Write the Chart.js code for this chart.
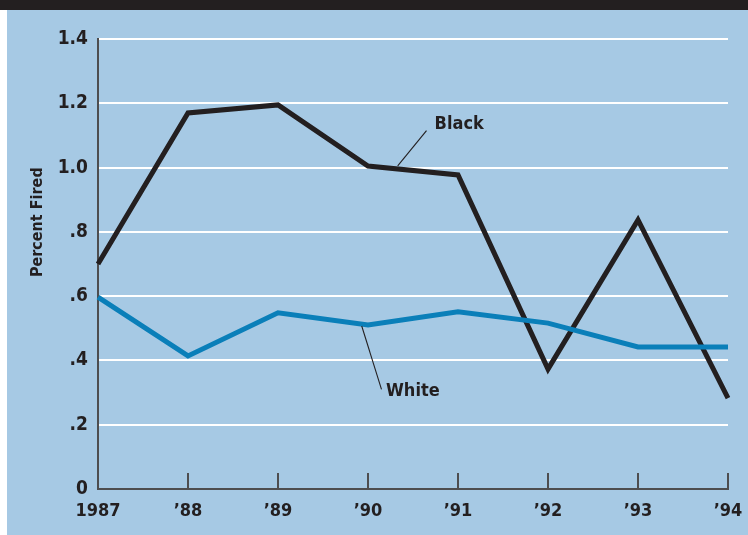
<!DOCTYPE html>
<html>
<head>
<meta charset="utf-8">
<script src="https://cdn.jsdelivr.net/npm/chart.js@4/dist/chart.umd.min.js"></script>
<style>
  html, body { margin: 0; padding: 0; background: #ffffff; }
  #wrap { position: relative; width: 748px; height: 535px; }
  canvas { display: block; }
</style>
</head>
<body>
<div id="wrap"><canvas id="c" width="748" height="535"></canvas></div>
<script>
// ---- data ----
const categories = ['1987', '\u201988', '\u201989', '\u201990', '\u201991', '\u201992', '\u201993', '\u201994'];
const blackValues = [0.70, 1.17, 1.195, 1.005, 0.977, 0.373, 0.837, 0.283];
const whiteValues = [0.597, 0.414, 0.548, 0.51, 0.551, 0.516, 0.442, 0.442];
const yTickLabels = ['0', '.2', '.4', '.6', '.8', '1.0', '1.2', '1.4'];
const seriesNames = ['Black', 'White'];
const yTitle = 'Percent Fired';

const FONT = '"DejaVu Sans Condensed", "Liberation Sans Narrow", sans-serif';
const BG = '#a6c9e4';
const INK = '#231f20';
const BLUE = '#0a7fb9';
const AXIS = '#4d4d4f';

const backgroundPlugin = {
  id: 'bg',
  beforeDraw(chart) {
    const ctx = chart.ctx;
    ctx.save();
    ctx.fillStyle = '#ffffff';
    ctx.fillRect(0, 0, chart.width, chart.height);
    ctx.fillStyle = BG;
    ctx.fillRect(7, 0, chart.width - 7, chart.height);
    ctx.fillStyle = '#231f20';
    ctx.fillRect(0, 0, chart.width, 10);
    ctx.restore();
  }
};

const labelsPlugin = {
  id: 'seriesLabels',
  afterDatasetsDraw(chart) {
    const ctx = chart.ctx;
    const xs = chart.scales.x, ys = chart.scales.y;
    const P = (i, v) => [xs.getPixelForValue(i), ys.getPixelForValue(v)];
    ctx.save();
    ctx.strokeStyle = INK;
    ctx.lineWidth = 1.1;
    let a = P(3.33, 1.005), b = P(3.65, 1.115);
    ctx.beginPath(); ctx.moveTo(a[0], a[1]); ctx.lineTo(b[0], b[1]); ctx.stroke();
    a = P(2.93, 0.507); b = P(3.15, 0.31);
    ctx.beginPath(); ctx.moveTo(a[0], a[1]); ctx.lineTo(b[0], b[1]); ctx.stroke();
    ctx.fillStyle = INK;
    ctx.font = 'bold 18px ' + FONT;
    ctx.textBaseline = 'middle';
    ctx.textAlign = 'left';
    let t = P(3.74, 1.135);
    ctx.fillText(seriesNames[0], t[0], t[1]);
    t = P(3.2, 0.305);
    ctx.fillText(seriesNames[1], t[0], t[1]);
    // y-axis title
    ctx.font = 'bold 16px ' + FONT;
    ctx.textAlign = 'center';
    ctx.translate(38, ys.getPixelForValue(0.83));
    ctx.rotate(-Math.PI / 2);
    ctx.fillText(yTitle, 0, 0);
    ctx.restore();
  }
};

new Chart(document.getElementById('c'), {
  type: 'line',
  data: {
    labels: categories,
    datasets: [
      { label: seriesNames[1], data: whiteValues, borderColor: BLUE, borderWidth: 5, pointRadius: 0, tension: 0, borderJoinStyle: 'miter', borderCapStyle: 'butt' },
      { label: seriesNames[0], data: blackValues, borderColor: INK, borderWidth: 5, pointRadius: 0, tension: 0, borderJoinStyle: 'miter', borderCapStyle: 'butt' }
    ]
  },
  options: {
    responsive: false,
    animation: false,
    devicePixelRatio: 1,
    layout: { padding: { left: 28, right: 0, top: 39, bottom: 0 } },
    plugins: { legend: { display: false }, tooltip: { enabled: false } },
    scales: {
      x: {
        type: 'category',
        offset: false,
        grid: { display: true, drawOnChartArea: false, drawTicks: true, tickLength: -16, color: AXIS, lineWidth: 2 },
        border: { display: true, color: AXIS, width: 2 },
        ticks: { color: INK, font: { family: FONT, size: 18, weight: 'bold' }, padding: 28, maxRotation: 0, autoSkip: false },
        afterFit(s) { s.height = 46; s.paddingRight = 20; s.paddingLeft = 0; }
      },
      y: {
        min: 0, max: 1.4,
        ticks: {
          stepSize: 0.2, color: INK, padding: 10,
          font: { family: FONT, size: 19, weight: 'bold' },
          callback: (v, i) => yTickLabels[i]
        },
        grid: { color: (c) => c.index === 0 ? 'rgba(0,0,0,0)' : '#ffffff', lineWidth: 2, drawTicks: false },
        border: { display: true, color: AXIS, width: 2 },
        title: { display: false, text: yTitle },
        afterFit(s) { s.width = 70; }
      }
    }
  },
  plugins: [backgroundPlugin, labelsPlugin]
});
</script>
</body>
</html>
